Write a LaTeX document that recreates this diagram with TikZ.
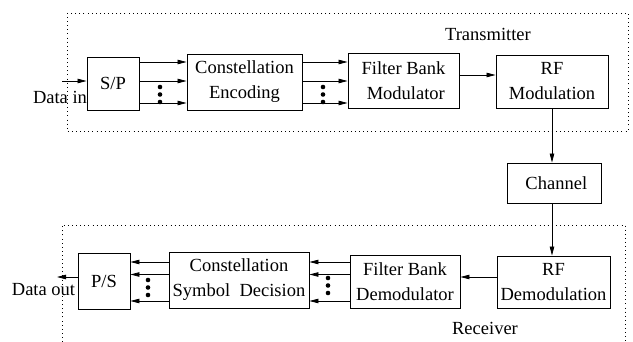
\documentclass[tikz,border=0pt]{standalone}
\usepackage{fontspec}
\setmainfont{Liberation Serif}
\usetikzlibrary{arrows.meta}
\begin{document}
\begin{tikzpicture}[x=1pt,y=-1pt,
  box/.style={draw,line width=0.9pt,inner sep=0pt,align=center,font=\fontsize{18.5}{25}\selectfont},
  lbl/.style={inner sep=0pt,font=\fontsize{18.5}{25}\selectfont},
  arr/.style={line width=0.8pt,-{Triangle[length=9pt,width=4.5pt]}},
  ln/.style={line width=0.8pt},
  dotbox/.style={line width=0.9pt,dash pattern=on 0.9pt off 3.2pt},
  blob/.style={fill=black}]
\useasboundingbox (0,0) rectangle (633,342);
% dotted frames
\draw[dotbox] (67,13) rectangle (628,131);
\draw[dotbox] (62,342) -- (62,225) -- (625,225) -- (625,342);
% nodes
\node[box,minimum width=52pt,minimum height=53pt] (sp) at (113,83.5) {S/P};
\node[box,minimum width=115pt,minimum height=56pt] (ce) at (244.5,82) {Constellation\\Encoding};
\node[box,minimum width=111pt,minimum height=55pt] (fbm) at (403.5,80.5) {Filter Bank\\\ Modulator};
\node[box,minimum width=112pt,minimum height=53pt] (rfm) at (552,81.5) {RF\\Modulation};
\node[box,minimum width=94pt,minimum height=40pt] (ch) at (554,183) {\ Channel};
\node[box,minimum width=113pt,minimum height=52pt] (rfd) at (553.5,282) {RF\\Demodulation};
\node[box,minimum width=110pt,minimum height=53pt] (fbd) at (405,281.5) {Filter Bank\\Demodulator};
\node[box,minimum width=140pt,minimum height=56pt] (csd) at (239,280) {Constellation\\Symbol\ \ Decision};
\node[box,minimum width=52pt,minimum height=56pt] (ps) at (104,281) {P/S};
\node[lbl] (tx) at (488,34) {Transmitter};
\node[lbl] (rx) at (485,328) {Receiver};
\node[lbl] (din) at (60,97) {Data in};
\node[lbl] (dout) at (43.5,290) {Data out};
% level coordinates
\coordinate (ya) at (0,62);
\coordinate (yb) at (0,81);
\coordinate (yc) at (0,103);
\coordinate (yd) at (0,262);
\coordinate (ye) at (0,274.5);
\coordinate (yf) at (0,301);
\coordinate (inend) at (62,81);
\coordinate (outend) at (57,277);
% transmitter connectors
\draw[arr] (inend) -- (sp.west |- yb);
\foreach \y in {ya,yb,yc}{
  \draw[arr] (sp.east |- \y) -- (ce.west |- \y);
  \draw[arr] (ce.east |- \y) -- (fbm.west |- \y);
}
\draw[arr] (fbm.east |- 0,75) -- (rfm.west |- 0,75);
\draw[arr] (rfm.south) -- (rfm.south |- ch.north);
\draw[arr] (rfm.south |- ch.south) -- (rfm.south |- rfd.north);
% receiver connectors
\draw[arr] (rfd.west |- 0,277) -- (fbd.east |- 0,277);
\foreach \y in {yd,ye,yf}{
  \draw[arr] (fbd.west |- \y) -- (csd.east |- \y);
  \draw[arr] (csd.west |- \y) -- (ps.east |- \y);
}
\draw[arr] (ps.west |- outend) -- (outend);
% ellipsis dots
\foreach \x/\a in {160/87,323/87,148/280,328/278}{
  \fill[blob] (\x,\a) circle (2.3pt);
  \fill[blob] (\x,\a+7.5) circle (2.3pt);
  \fill[blob] (\x,\a+15) circle (2.3pt);
}
\end{tikzpicture}
\end{document}
